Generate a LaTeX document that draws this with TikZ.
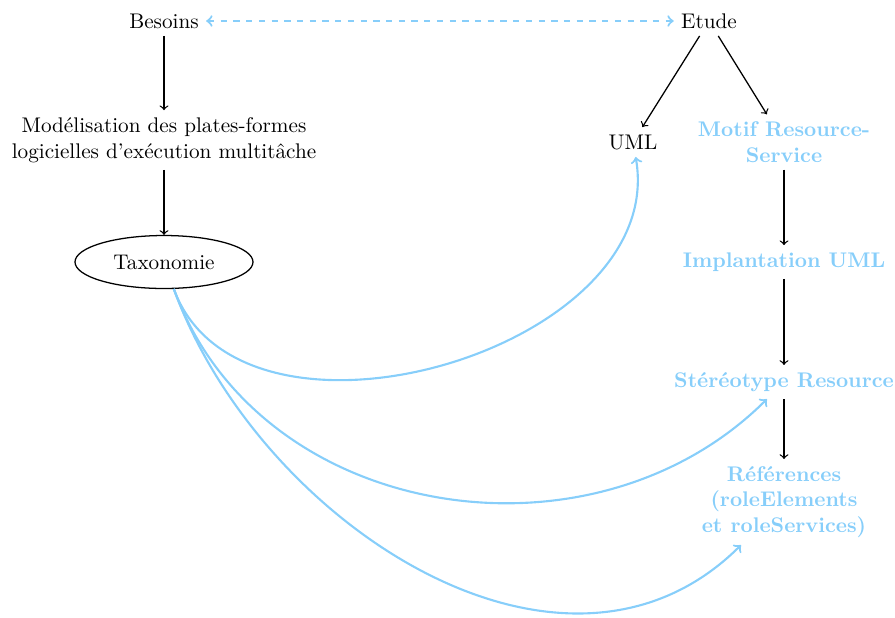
\documentclass[tikz,border=0pt]{standalone}
\usetikzlibrary{shapes.geometric}

\definecolor{bleuLien}{RGB}{135,206,250}

\begin{document}
\begin{tikzpicture}[x=0.01658cm,y=-0.01658cm]

% ---------- styles ----------
\tikzset{
  fleche/.style={draw=black,line width=0.6pt,->},
  lien/.style  ={draw=bleuLien,line width=1pt,->},
  etape/.style ={text=bleuLien,font=\bfseries,align=center}
}

% ---------- frame ----------
\useasboundingbox (0,0) rectangle (895,617);

% ---------- left column ----------
\node (besoins) at (164,21) {Besoins};
\node[align=center] (modelisation) at (164,140)
  {Modélisation des plates-formes\\logicielles d'exécution multitâche};
\node[ellipse,draw,line width=0.6pt,minimum width=84pt,minimum height=25pt]
  (taxonomie) at (164,262) {Taxonomie};

% ---------- right column ----------
\node (etude) at (709,21) {Etude};
\node (uml)   at (633,142) {UML};
\node[etape] (motif)        at (784,142) {Motif Resource-\\Service};
\node[etape] (implantation) at (784,262) {Implantation UML};
\node[etape] (stereotype)   at (784,382) {Stéréotype Resource};
\node[etape] (references)   at (784,502) {Références\\(roleElements\\et roleServices)};

% ---------- black arrows ----------
\draw[fleche] (besoins) -- (modelisation);
\draw[fleche] (modelisation) -- (taxonomie);
\draw[fleche] (etude) -- (uml);
\draw[fleche] (etude) -- (motif);
\draw[fleche] (motif) -- (implantation);
\draw[fleche] (implantation) -- (stereotype);
\draw[fleche] (stereotype) -- (references);

% ---------- blue links ----------
\draw[lien,<->,dashed] (besoins) -- (etude);
\draw[lien] (taxonomie) to[out=-70,in=-80,looseness=1.05] (uml);
\draw[lien] (taxonomie) to[out=-70,in=-135,looseness=1.05] (stereotype);
\draw[lien] (taxonomie) to[out=-70,in=-135,looseness=1.03] (references);

\end{tikzpicture}
\end{document}
